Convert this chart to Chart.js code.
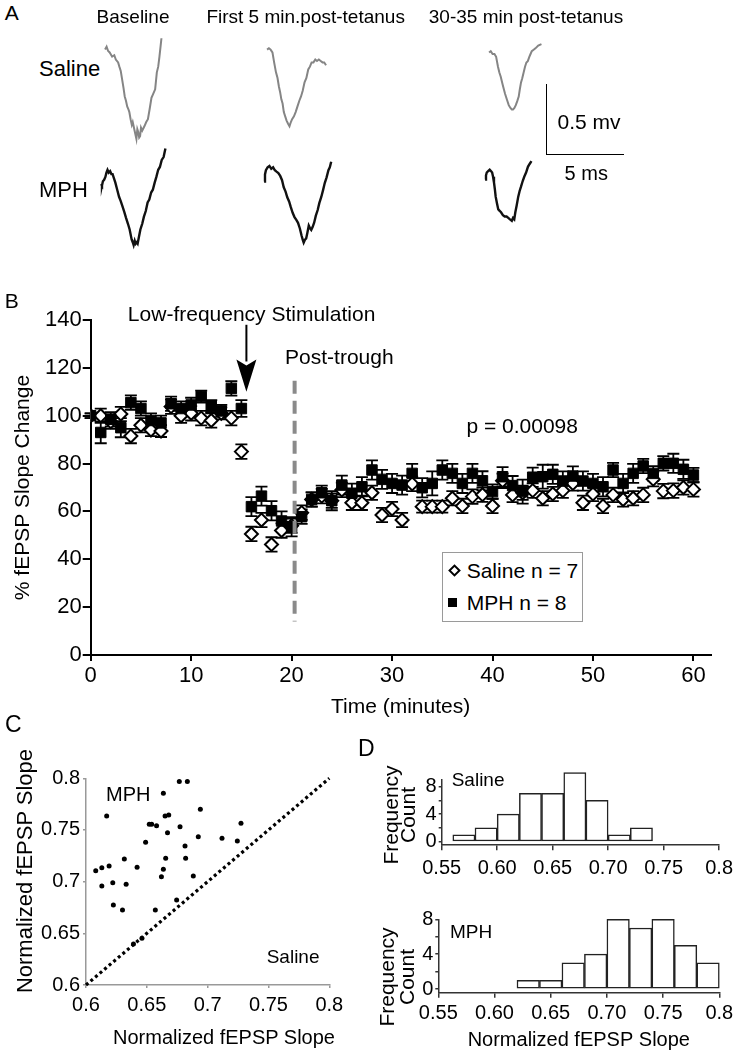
<!DOCTYPE html>
<html><head><meta charset="utf-8">
<script src="https://cdn.jsdelivr.net/npm/chart.js@4.4.1/dist/chart.umd.min.js"></script>
<style>
html,body{margin:0;padding:0;background:#fff;}
body{position:relative;width:739px;height:1050px;overflow:hidden;font-family:"Liberation Sans",Arial,sans-serif;color:#000;}
canvas{position:absolute;}
.t{position:absolute;white-space:nowrap;line-height:1;}
.r{position:absolute;white-space:nowrap;line-height:1;transform:translate(-50%,-50%) rotate(-90deg);}
</style></head><body>
<script>
// ---------------- DATA ----------------
// Panel A: field potential traces (time in ms, voltage in mV relative to start)
const salBaseT = [0,0.1,0.2,0.3,0.46,0.6,0.7,0.85,0.93,1.02,1.11,1.2,1.28,1.36,1.44,1.52,1.58,1.66,1.74,1.8,1.86,1.92,1.98,2.04,2.1,2.16,2.22,2.28,2.34,2.42,2.56,2.68,2.79,2.9,3.02,3.14,3.26,3.37,3.46,3.54,3.62,3.67];
const salBaseV = [0,0.02,-0.01,-0.02,-0.05,-0.04,-0.07,-0.09,-0.12,-0.15,-0.21,-0.27,-0.33,-0.36,-0.40,-0.42,-0.44,-0.49,-0.53,-0.51,-0.54,-0.57,-0.60,-0.63,-0.56,-0.58,-0.62,-0.61,-0.55,-0.57,-0.54,-0.51,-0.49,-0.42,-0.34,-0.31,-0.28,-0.16,-0.12,-0.05,0.03,0.08];
const salEarlyT = [0,0.12,0.23,0.35,0.46,0.58,0.68,0.77,0.85,0.93,1.01,1.09,1.18,1.27,1.36,1.46,1.55,1.63,1.75,1.86,1.98,2.1,2.21,2.32,2.44,2.56,2.68,2.79,2.9,3.02,3.14,3.25,3.37,3.49,3.61,3.72,3.84];
const salEarlyV = [0,0.01,0,-0.02,-0.09,-0.16,-0.20,-0.26,-0.30,-0.35,-0.38,-0.44,-0.47,-0.50,-0.52,-0.54,-0.51,-0.49,-0.47,-0.44,-0.40,-0.36,-0.33,-0.29,-0.23,-0.20,-0.14,-0.12,-0.09,-0.09,-0.07,-0.08,-0.07,-0.08,-0.09,-0.09,-0.11];
const salLateT = [0,0.11,0.23,0.35,0.46,0.58,0.67,0.76,0.85,0.92,1.04,1.16,1.28,1.39,1.48,1.56,1.65,1.74,1.84,1.93,2.0,2.08,2.16,2.25,2.34,2.43,2.52,2.62,2.7,2.78,2.9,3.02,3.2,3.41];
const salLateV = [0,0.01,-0.01,-0.01,-0.03,-0.10,-0.14,-0.17,-0.21,-0.24,-0.29,-0.33,-0.37,-0.39,-0.40,-0.40,-0.39,-0.37,-0.34,-0.31,-0.26,-0.21,-0.18,-0.14,-0.10,-0.07,-0.06,-0.03,-0.01,0.01,0.02,0.03,0.05,0.06];
const mphBaseT = [0,0.06,0.12,0.2,0.28,0.35,0.42,0.5,0.59,0.67,0.75,0.84,0.93,1.05,1.17,1.28,1.4,1.52,1.63,1.75,1.86,1.99,2.06,2.12,2.19,2.25,2.32,2.38,2.47,2.56,2.68,2.79,2.91,3.03,3.14,3.26,3.37,3.49,3.6,3.72,3.83,3.95,4.07,4.19];
const mphBaseV = [-0.01,-0.02,0.01,0.02,0.04,0.07,0.09,0.07,0.08,0.06,0.06,0.03,0,-0.05,-0.10,-0.13,-0.17,-0.21,-0.25,-0.29,-0.33,-0.40,-0.42,-0.44,-0.41,-0.43,-0.42,-0.43,-0.38,-0.33,-0.29,-0.24,-0.20,-0.14,-0.12,-0.07,-0.05,0,0.04,0.09,0.11,0.16,0.18,0.24];
const mphEarlyT = [0,0.06,0.12,0.23,0.35,0.47,0.59,0.7,0.81,0.93,1.05,1.17,1.28,1.4,1.51,1.63,1.74,1.86,1.98,2.1,2.21,2.33,2.44,2.52,2.58,2.66,2.74,2.82,2.91,3.0,3.07,3.16,3.26,3.37,3.49,3.6,3.72,3.84,3.95,4.07,4.19,4.28,4.37];
const mphEarlyV = [0,0.05,0.08,0.10,0.11,0.09,0.10,0.08,0.07,0.06,0.04,0.01,-0.04,-0.07,-0.11,-0.14,-0.18,-0.22,-0.25,-0.27,-0.29,-0.33,-0.38,-0.41,-0.43,-0.41,-0.40,-0.36,-0.31,-0.33,-0.34,-0.32,-0.29,-0.24,-0.20,-0.15,-0.11,-0.06,-0.01,0.03,0.08,0.10,0.14];
const mphLateT = [0,0.06,0.11,0.2,0.3,0.38,0.46,0.52,0.58,0.64,0.69,0.78,0.86,0.95,1.04,1.16,1.28,1.4,1.51,1.62,1.74,1.82,1.9,1.97,2.06,2.16,2.25,2.34,2.45,2.55,2.67,2.79,2.9,3.02];
const mphLateV = [0,0.03,0.05,0.06,0.07,0.06,0.05,0.02,-0.02,-0.07,-0.12,-0.17,-0.21,-0.22,-0.23,-0.25,-0.26,-0.26,-0.27,-0.28,-0.29,-0.27,-0.28,-0.23,-0.18,-0.12,-0.08,-0.05,-0.01,0.02,0.05,0.09,0.11,0.13];

// Panel B: % fEPSP slope change per minute
const timeMin = [0,1,2,3,4,5,6,7,8,9,10,11,12,13,14,15,16,17,18,19,20,21,22,23,24,25,26,27,28,29,30,31,32,33,34,35,36,37,38,39,40,41,42,43,44,45,46,47,48,49,50,51,52,53,54,55,56,57,58,59,60];
const mphSlope = [100,93,98.5,95,105.5,103,98,97,105,103,104.5,108,104,102,111.4,103,62,66.4,60.3,56,53.6,57.8,65,67.8,64.5,71,67.6,70.3,77.3,73.4,71.7,71,75.9,69.9,71.7,77.3,75.9,71.7,75.9,72.8,68.3,74.5,70.8,68.3,74.3,74.5,75.5,72.7,74.8,72.7,71.7,70.3,77.3,71.7,75.9,79,75.9,80.1,80.1,77.6,75.2];
const mphErr = [1,4.5,3,4,3,3,3,3,3,3,3,2.5,2.5,2.5,3,3.5,4,4,4,4,4,3,3,3,4,4,4,4,4,4,4,4,4,4,5,4,4,4,4,4,3,4,4,5,4,5,4,4,4,4,4,4,3,4,4,3,3,3,4,4,3];
const salineSlope = [100,100,97.5,100.7,91.5,96,94,93.6,103.8,100,101,99,98,101,99,85,50.6,56.4,46.2,52,54,59.5,65,66.4,64.5,69,63.6,63.6,67.8,58.5,61,56.4,71.5,62,62,62,65.5,62.3,66.2,67,62.3,72.8,66.9,67.8,68.7,65.5,67.3,68.7,71.7,63.6,67.3,62.3,66.9,65,65.5,66.9,73.5,68.5,68.7,70,69.2];
const salineErr = [1,3,3,3,3,3,2.5,2.5,3,3,3,3,3,2.5,3,3,3,3,3,3,3,3,3,3,3,3,3,3,3,3,3,3,3,2.5,2.5,2.5,3,3,3,3,3,3,3,3,3,3,3,3,3,3,3,3,3,3,3,3,3,3,3,3,3];
const bTimeTicks = [0,10,20,30,40,50,60];
const bSlopeTicks = [0,20,40,60,80,100,120,140];
// annotations (data units)
const lfsTime = 15.5, troughTime = 20.3;

// Panel C: paired normalized slopes (x = Saline, y = MPH)
const cSalineSlope = [0.608,0.613,0.613,0.617,0.619,0.622,0.6225,0.630,0.6315,0.633,0.639,0.642,0.646,0.649,0.652,0.654,0.658,0.657,0.662,0.6636,0.6636,0.665,0.6655,0.667,0.668,0.6745,0.6767,0.6773,0.6814,0.6819,0.6833,0.6882,0.6923,0.694,0.7118,0.7244,0.7274];
const cMphSlope = [0.7106,0.7135,0.6958,0.7635,0.7152,0.699,0.6774,0.6726,0.7219,0.6974,0.6397,0.7139,0.6452,0.7381,0.7555,0.7555,0.7542,0.6726,0.7048,0.7119,0.7855,0.7635,0.7226,0.7474,0.7645,0.6823,0.7968,0.7532,0.7345,0.7226,0.7968,0.7055,0.7435,0.77,0.7419,0.7394,0.7565];
const cIdentity = [0.6,0.8];
const cTicks = [0.6,0.65,0.7,0.75,0.8];
const cTickLabels = ['0.6','0.65','0.7','0.75','0.8'];

// Panel D: histograms of normalized slope (bin centres, counts)
const salineBins = [0.57,0.59,0.61,0.63,0.65,0.67,0.69,0.71,0.73];
const salineCounts = [1,2,4,7,7,10,6,1,2];
const mphBins = [0.63,0.65,0.67,0.69,0.71,0.73,0.75,0.77,0.79];
const mphCounts = [1,1,3,4,8,7,8,5,3];
const dXTicks = [0.55,0.6,0.65,0.7,0.75,0.8];
const dXTickLabels = ['0.55','0.60','0.65','0.70','0.75','0.8'];
const dYTicks = [0,2,4,6,8];
const dYTickLabels = ['0','','4','','8'];

// ---------------- HELPERS ----------------
const FONT = '"Liberation Sans", Arial, sans-serif';
Chart.defaults.font.family = FONT;
Chart.defaults.color = '#000';
const pts = (xs, ys) => xs.map((x, i) => ({x: x, y: ys[i]}));
function makeCanvas(left, top, w, h) {
  const c = document.createElement('canvas');
  c.width = w; c.height = h;
  c.style.left = left + 'px'; c.style.top = top + 'px';
  c.style.width = w + 'px'; c.style.height = h + 'px';
  document.body.appendChild(c);
  return c;
}
function label(txt, left, cy, size) {
  const d = document.createElement('div');
  d.className = 't'; d.textContent = txt;
  d.style.left = left + 'px'; d.style.top = (cy - 0.49 * size) + 'px'; d.style.fontSize = size + 'px';
  document.body.appendChild(d);
}
function vlabel(txt, cx, cy, size) {
  const d = document.createElement('div');
  d.className = 'r'; d.textContent = txt;
  d.style.left = cx + 'px'; d.style.top = cy + 'px'; d.style.fontSize = size + 'px';
  document.body.appendChild(d);
}
const base = {responsive:false, animation:false, devicePixelRatio:1, events:[],
  plugins:{legend:{display:false}, tooltip:{enabled:false}}};

// ---------------- PANEL A ----------------
const PX_MS = 15.36, PX_MV = 142, TW = 80, TH = 140, T0 = -0.2, VTOP = 0.3;
function trace(t, v, color, width, x0, y0) {
  new Chart(makeCanvas(x0 + T0 * PX_MS, y0 - VTOP * PX_MV, TW, TH), {
    type:'line',
    data:{datasets:[{data: pts(t, v), borderColor: color, borderWidth: width, pointRadius:0, tension:0, clip:false}]},
    options:Object.assign({}, base, {layout:{padding:0},
      scales:{x:{type:'linear', display:false, min:T0, max:T0 + TW / PX_MS},
              y:{type:'linear', display:false, max:VTOP, min:VTOP - TH / PX_MV}}})
  });
}
trace(salBaseT, salBaseV, '#858585', 2, 105, 50);
trace(salEarlyT, salEarlyV, '#858585', 2, 267.5, 50);
trace(salLateT, salLateV, '#858585', 2, 489, 53);
trace(mphBaseT, mphBaseV, '#111', 2.4, 101.4, 183);
trace(mphEarlyT, mphEarlyV, '#111', 2.4, 263.9, 181.7);
trace(mphLateT, mphLateV, '#111', 2.4, 485.4, 180);

label('A', 4.7, 12.5, 21);
label('Baseline', 96.6, 16.7, 19);
label('First 5 min.post-tetanus', 206.4, 16.7, 19);
label('30-35 min post-tetanus', 428.8, 16.7, 19);
label('Saline', 39, 68.3, 22);
label('MPH', 39, 190, 22);
label('0.5 mv', 557.5, 121.7, 21);
label('5 ms', 564.6, 173, 20);
(function(){ const d = document.createElement('div');
  d.style.cssText = 'position:absolute;left:546px;top:84px;width:77px;height:70px;border-left:1.5px solid #000;border-bottom:1.5px solid #000;';
  document.body.appendChild(d); })();

// ---------------- PANEL B ----------------
const errorBars = { id:'errorBars', beforeDatasetsDraw(chart) {
  const {ctx, scales:{x, y}} = chart;
  ctx.save(); ctx.strokeStyle = '#000'; ctx.lineWidth = 1.8;
  chart.data.datasets.forEach(ds => {
    if (!ds.errors) return;
    ds.data.forEach((p, j) => {
      const e = ds.errors[j], px = x.getPixelForValue(p.x);
      const yt = y.getPixelForValue(p.y + e), yb = y.getPixelForValue(p.y - e);
      ctx.beginPath();
      ctx.moveTo(px, yb); ctx.lineTo(px, yt);
      ctx.moveTo(px - 6, yt); ctx.lineTo(px + 6, yt);
      ctx.moveTo(px - 6, yb); ctx.lineTo(px + 6, yb);
      ctx.stroke();
    });
  });
  ctx.restore();
}};
const bAnnot = { id:'bAnnot', afterDatasetsDraw(chart) {
  const {ctx, scales:{x, y}} = chart;
  ctx.save();
  // post-trough dashed line
  const tx = x.getPixelForValue(troughTime);
  ctx.strokeStyle = '#8a8a8a'; ctx.lineWidth = 4; ctx.setLineDash([13, 7]);
  ctx.beginPath(); ctx.moveTo(tx, y.getPixelForValue(114.6)); ctx.lineTo(tx, y.getPixelForValue(14)); ctx.stroke();
  ctx.setLineDash([]);
  // arrow
  const ax = x.getPixelForValue(lfsTime);
  const aTop = y.getPixelForValue(138), aBase = y.getPixelForValue(123.5), aTip = y.getPixelForValue(110);
  ctx.strokeStyle = '#000'; ctx.lineWidth = 2;
  ctx.beginPath(); ctx.moveTo(ax, aTop); ctx.lineTo(ax, aBase + 2); ctx.stroke();
  ctx.fillStyle = '#000';
  ctx.beginPath(); ctx.moveTo(ax - 10, aBase); ctx.lineTo(ax, aBase + 6); ctx.lineTo(ax + 10, aBase); ctx.lineTo(ax, aTip); ctx.closePath(); ctx.fill();
  // texts
  ctx.font = '21px ' + FONT; ctx.textAlign = 'left'; ctx.textBaseline = 'alphabetic';
  const txt = (s, tv, yv) => ctx.fillText(s, x.getPixelForValue(tv), y.getPixelForValue(yv) + 0.358 * 21);
  txt('Low-frequency Stimulation', 3.7, 142.9);
  txt('Post-trough', 19.35, 124.7);
  txt('p = 0.00098', 37.4, 96.1);
  ctx.restore();
}};
const bGrid = {drawOnChartArea:false, drawTicks:true, color:'#000', lineWidth:2};
new Chart(makeCanvas(0, 290, 739, 430), {
  type:'scatter',
  data:{datasets:[
    {label:'MPH n = 8', data: pts(timeMin, mphSlope), errors: mphErr, pointStyle:'rect', pointRadius:7.4,
     backgroundColor:'#000', borderColor:'#000', borderWidth:1},
    {label:'Saline n = 7', data: pts(timeMin, salineSlope), errors: salineErr, pointStyle:'rectRot', pointRadius:6.5,
     backgroundColor:'#fff', borderColor:'#000', borderWidth:2}
  ]},
  options:Object.assign({}, base, {
    layout:{padding:{top:30, right:28.5, left:0, bottom:0}},
    scales:{
      x:{type:'linear', min:0, max:61.7,
         afterBuildTicks: s => { s.ticks = bTimeTicks.map(v => ({value:v})); },
         ticks:{font:{size:22}, color:'#000', padding:2, maxRotation:0, autoSkip:false},
         grid:Object.assign({tickLength:6}, bGrid), border:{display:true, color:'#000', width:2},
         title:{display:true, text:'Time (minutes)', font:{size:21}, color:'#000', padding:{top:0, bottom:0}},
         afterFit: s => { s.height = 65; }},
      y:{type:'linear', min:0, max:140,
         afterBuildTicks: s => { s.ticks = bSlopeTicks.map(v => ({value:v})); },
         ticks:{font:{size:22}, color:'#000', padding:1, autoSkip:false},
         grid:Object.assign({tickLength:8}, bGrid), border:{display:true, color:'#000', width:2},
         title:{display:true, text:'% fEPSP Slope Change', font:{size:21}, color:'#000', padding:{top:11, bottom:0}},
         afterFit: s => { s.width = 90.7; }}
    }
  }),
  plugins:[errorBars, bAnnot]
});
label('B', 4.7, 300, 21);
// legend box
(function(){
  const box = document.createElement('div');
  box.style.cssText = 'position:absolute;left:442px;top:552px;width:139px;height:68px;border:1px solid #9a9a9a;background:#fff;';
  document.body.appendChild(box);
  const dia = document.createElement('div');
  dia.style.cssText = 'position:absolute;left:449.8px;top:565.5px;width:5px;height:5px;border:2px solid #000;background:#fff;transform:rotate(45deg);';
  document.body.appendChild(dia);
  const sq = document.createElement('div');
  sq.style.cssText = 'position:absolute;left:448.2px;top:598.2px;width:9px;height:9px;background:#000;';
  document.body.appendChild(sq);
})();
label('Saline n = 7', 466.7, 570, 21);
label('MPH n = 8', 466.7, 602.7, 21);

// ---------------- PANEL C ----------------
const cGrid = {drawOnChartArea:false, drawTicks:true, tickLength:3, color:'#999', lineWidth:1.5};
new Chart(makeCanvas(0, 690, 370, 360), {
  type:'scatter',
  data:{datasets:[
    {data: pts(cSalineSlope, cMphSlope), pointRadius:2.5, backgroundColor:'#000', borderWidth:0},
    {data: pts(cIdentity, cIdentity), showLine:true, pointRadius:0, borderColor:'#000', borderWidth:3.2, borderDash:[3,3], clip:false}
  ]},
  options:Object.assign({}, base, {
    layout:{padding:{top:88.3, right:40.7, left:0, bottom:0}},
    scales:{
      x:{type:'linear', min:0.6, max:0.8,
         afterBuildTicks: s => { s.ticks = cTicks.map(v => ({value:v})); },
         ticks:{font:{size:20}, color:'#000', padding:5, maxRotation:0, autoSkip:false, callback:(v, i) => cTickLabels[i]},
         grid:cGrid, border:{display:true, color:'#999', width:1.5},
         afterFit: s => { s.height = 65; }},
      y:{type:'linear', min:0.6, max:0.8,
         afterBuildTicks: s => { s.ticks = cTicks.map(v => ({value:v})); },
         ticks:{font:{size:20}, color:'#000', padding:3, autoSkip:false, callback:(v, i) => cTickLabels[i]},
         grid:cGrid, border:{display:true, color:'#999', width:1.5},
         afterFit: s => { s.width = 86; }}
    }
  })
});
label('C', 5, 724, 23);
label('MPH', 106, 794, 20);
label('Saline', 266.7, 956.7, 19);
label('Normalized fEPSP Slope', 113, 1036.7, 20);
vlabel('Normalized fEPSP Slope', 25, 871, 22);

// ---------------- PANEL D ----------------
function hist(canvas, bins, counts, padTop, padRight, yW, xH, ymin, ymax, xPad, withTitle) {
  const g = {drawOnChartArea:false, drawTicks:true, color:'#333', lineWidth:1.5};
  return new Chart(canvas, {
    type:'bar',
    data:{datasets:[{data: pts(bins, counts), backgroundColor:'#fff', borderColor:'#222', borderWidth:1.5,
      borderSkipped:false, barPercentage:1, categoryPercentage:1, grouped:false, clip:false}]},
    options:Object.assign({}, base, {
      layout:{padding:{top:padTop, right:padRight, left:0, bottom:0}},
      scales:{
        x:{type:'linear', min:0.55, max:0.8, offset:false,
           afterBuildTicks: s => { s.ticks = dXTicks.map(v => ({value:v})); },
           ticks:{font:{size:20}, color:'#000', padding:xPad, maxRotation:0, autoSkip:false, callback:(v, i) => dXTickLabels[i]},
           grid:Object.assign({tickLength:5, offset:false}, g), border:{display:true, color:'#333', width:1.5},
           title:{display:withTitle, text:'Normalized fEPSP Slope', font:{size:20, lineHeight:1}, color:'#000', padding:{top:0, bottom:0}},
           afterFit: s => { s.height = xH; }},
        y:{type:'linear', min:ymin, max:ymax,
           afterBuildTicks: s => { s.ticks = dYTicks.map(v => ({value:v})); },
           ticks:{font:{size:20}, color:'#000', padding:2, autoSkip:false, callback:(v, i) => dYTickLabels[i]},
           grid:Object.assign({tickLength:3}, g), border:{display:true, color:'#333', width:1.5},
           afterFit: s => { s.width = yW; }}
      }
    })
  });
}
hist(makeCanvas(370, 740, 369, 140), salineBins, salineCounts, 39.6, 14.7, 71.7, 34.8, -0.5, 9, 6, false);
hist(makeCanvas(370, 900, 369, 150), mphBins, mphCounts, 19.3, 19.7, 68.3, 57.3, -0.42, 8, 4, true);
label('D', 358, 748, 23);
label('Saline', 451.7, 779.3, 19);
label('MPH', 450, 931.7, 19);
vlabel('Frequency', 390, 815, 21);
vlabel('Count', 407, 815, 21);
vlabel('Frequency', 386, 977, 21);
vlabel('Count', 405.5, 977, 21);
</script>
</body></html>
